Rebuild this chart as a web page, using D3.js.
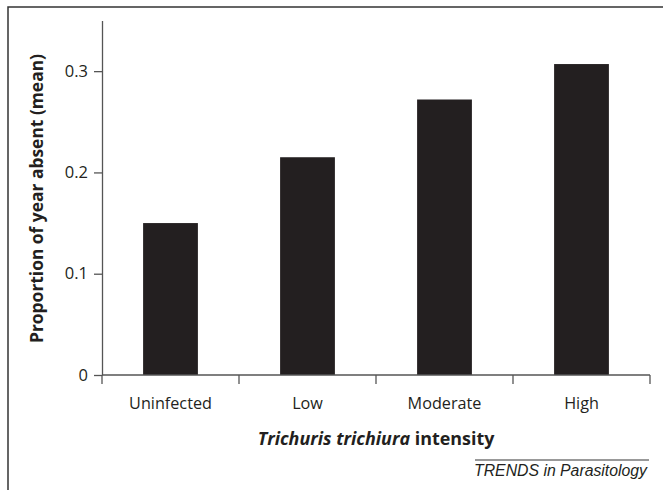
<!DOCTYPE html>
<html>
<head>
<meta charset="utf-8">
<script src="https://cdn.jsdelivr.net/npm/d3@7"></script>
<style>
  body { margin: 0; background: #fff; }
  svg text { font-family: "Open Sans", sans-serif; fill: #231f20; }
</style>
</head>
<body>
<div id="chart"></div>
<script>
var categories = ["Uninfected", "Low", "Moderate", "High"];
var absentMean = [0.15, 0.215, 0.272, 0.307];
var yTicks = [0, 0.1, 0.2, 0.3];

var width = 663, height = 490;
var plotLeft = 102, plotRight = 650, plotBottom = 375, plotTop = 20.5;

var svg = d3.select('#chart')
    .append('svg')
    .attr('width', width)
    .attr('height', height);

// Frame (top and left edges only)
svg.append('path')
    .attr('d', 'M8,490V7H663')
    .attr('fill', 'none')
    .attr('stroke', '#333')
    .attr('stroke-width', 1.5);

var x = d3.scaleBand()
    .domain(categories)
    .range([plotLeft, plotRight])
    .paddingInner(0.6)
    .paddingOuter(0.3);

var y = d3.scaleLinear()
    .domain([0, 0.35])
    .range([plotBottom, plotTop]);

// Bars
svg.selectAll('rect.bar')
    .data(categories)
    .enter().append('rect')
    .attr('class', 'bar')
    .attr('x', function (d) { return x(d); })
    .attr('width', x.bandwidth())
    .attr('y', function (d, i) { return y(absentMean[i]); })
    .attr('height', function (d, i) { return plotBottom - y(absentMean[i]); })
    .attr('fill', '#231f20');

// Y axis
var yAxis = svg.append('g')
    .attr('transform', 'translate(' + plotLeft + ',0)')
    .call(d3.axisLeft(y)
        .tickValues(yTicks)
        .tickSize(8)
        .tickSizeOuter(0)
        .tickPadding(6)
        .tickFormat(function (d) { return d === 0 ? "0" : d.toFixed(1); }));
yAxis.selectAll('path, line').attr('stroke', '#555').attr('stroke-width', 1.3);
yAxis.selectAll('text')
    .style('font-family', '"Open Sans", sans-serif')
    .style('font-size', '16.5px')
    .attr('fill', '#231f20');

// X axis line and boundary ticks
svg.append('line')
    .attr('x1', plotLeft).attr('x2', plotRight)
    .attr('y1', plotBottom).attr('y2', plotBottom)
    .attr('stroke', '#555').attr('stroke-width', 1.3);

var step = x.step();
var boundaries = [x(categories[0]) + x.bandwidth() / 2 - step / 2]
    .concat(categories.map(function (c) { return x(c) + x.bandwidth() / 2 + step / 2; }));
svg.selectAll('line.xtick')
    .data(boundaries)
    .enter().append('line')
    .attr('class', 'xtick')
    .attr('x1', function (d) { return d; })
    .attr('x2', function (d) { return d; })
    .attr('y1', plotBottom)
    .attr('y2', plotBottom + 9)
    .attr('stroke', '#555').attr('stroke-width', 1.3);

svg.selectAll('text.xlabel')
    .data(categories)
    .enter().append('text')
    .attr('class', 'xlabel')
    .attr('x', function (d) { return x(d) + x.bandwidth() / 2; })
    .attr('y', 409)
    .attr('text-anchor', 'middle')
    .attr('font-size', 16.2)
    .text(function (d) { return d; });

// Axis titles
var xTitle = svg.append('text')
    .attr('x', 376)
    .attr('y', 445)
    .attr('text-anchor', 'middle')
    .attr('font-size', 17.9)
    .attr('font-weight', 'bold');
xTitle.append('tspan').attr('font-style', 'italic').text('Trichuris trichiura');
xTitle.append('tspan').text(' intensity');

svg.append('text')
    .attr('transform', 'translate(43,198.5) rotate(-90)')
    .attr('text-anchor', 'middle')
    .attr('font-size', 17.4)
    .attr('font-weight', 'bold')
    .text('Proportion of year absent (mean)');

// Journal footer
svg.append('line')
    .attr('x1', 475).attr('x2', 649)
    .attr('y1', 460).attr('y2', 460)
    .attr('stroke', '#777').attr('stroke-width', 1.5);

svg.append('text')
    .attr('x', 647)
    .attr('y', 476)
    .attr('text-anchor', 'end')
    .attr('font-size', 15.8)
    .attr('font-style', 'italic')
    .style('font-family', '"Liberation Sans", Arial, sans-serif')
    .attr('fill', '#333')
    .text('TRENDS in Parasitology');
</script>
</body>
</html>
